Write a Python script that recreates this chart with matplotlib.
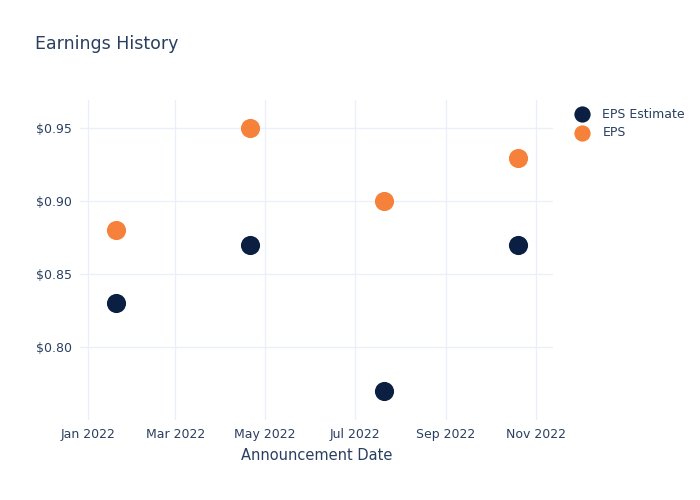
import pandas as pd
import matplotlib.pyplot as plt
import matplotlib.dates as mdates

dates = pd.to_datetime(["2022-01-20", "2022-04-21", "2022-07-21", "2022-10-20"])
eps_estimate = [0.83, 0.87, 0.77, 0.87]
eps_actual = [0.88, 0.95, 0.90, 0.93]

text_col = "#2a3f5f"
grid_col = "#ebf0f8"

fig = plt.figure(figsize=(7, 5), dpi=100)
ax = fig.add_axes([80 / 700, 0.16, 473 / 700, 0.64])

ax.scatter(dates, eps_estimate, s=190, color="#0b1f42", label="EPS Estimate", zorder=3, linewidths=0)
ax.scatter(dates, eps_actual, s=190, color="#f6813a", label="EPS", zorder=3, linewidths=0)

ax.set_xlim(pd.Timestamp("2021-12-26 06:00"), pd.Timestamp("2022-11-12 20:00"))
ax.set_ylim(0.7498, 0.9695)
ax.set_yticks([0.80, 0.85, 0.90, 0.95])
ax.yaxis.set_major_formatter(plt.FuncFormatter(lambda v, p: f"${v:.2f}"))
ax.xaxis.set_major_locator(mdates.MonthLocator(bymonth=[1, 3, 5, 7, 9, 11]))
ax.xaxis.set_major_formatter(mdates.DateFormatter("%b %Y"))

ax.grid(True, color=grid_col, linewidth=1)
ax.set_axisbelow(True)
for s in ax.spines.values():
    s.set_visible(False)
ax.tick_params(length=0, labelsize=9, colors=text_col, pad=6)

ax.set_xlabel("Announcement Date", fontsize=10.5, color=text_col, labelpad=5)
fig.text(35 / 700, 1 - 44 / 500, "Earnings History", fontsize=12.5, color=text_col, va="center")

leg = ax.legend(loc="upper left", bbox_to_anchor=(1.02, 1.0), frameon=False, fontsize=9,
                labelcolor=text_col, handletextpad=0.6, borderaxespad=0.2, labelspacing=0.45,
                markerscale=0.85)

fig.savefig("out.png", dpi=100, facecolor="white")
